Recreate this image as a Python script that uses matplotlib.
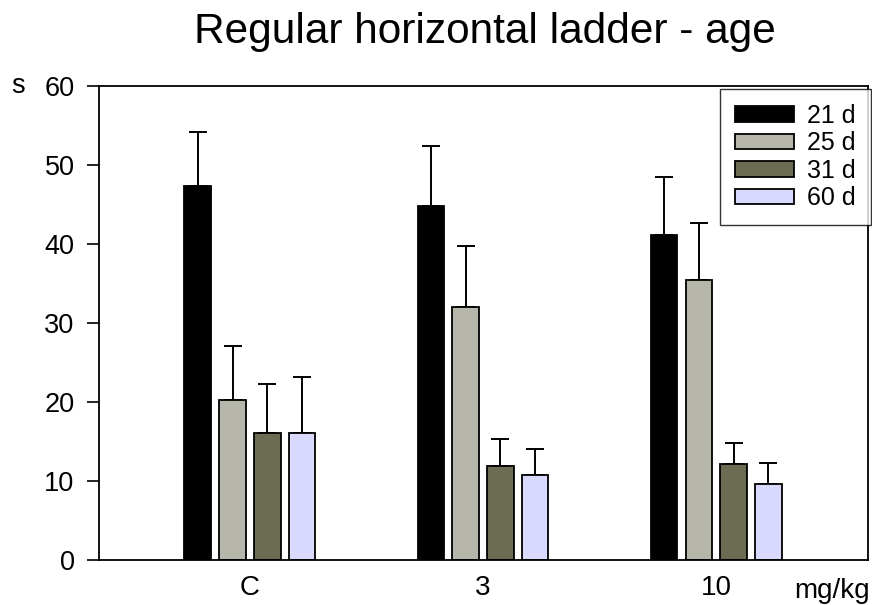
import matplotlib
matplotlib.use("Agg")
import matplotlib.pyplot as plt
import numpy as np

plt.rcParams['font.family'] = ['Liberation Sans', 'DejaVu Sans']

doses = ['C', '3', '10']
ages = ['21 d', '25 d', '31 d', '60 d']
# mean time (s) per age group, one list per age
m21 = [47.4, 44.8, 41.1]
m25 = [20.2, 32.0, 35.5]
m31 = [16.1, 11.9, 12.1]
m60 = [16.1, 10.7, 9.6]
# standard error (upper bar only)
e21 = [6.8, 7.6, 7.4]
e25 = [6.9, 7.8, 7.2]
e31 = [6.2, 3.4, 2.7]
e60 = [7.1, 3.3, 2.7]

means = [m21, m25, m31, m60]
errs = [e21, e25, e31, e60]
colors = ['#000000', '#b6b6aa', '#6c6c53', '#d9d9fd']

fig = plt.figure(figsize=(8.72, 6.05), dpi=100)
ax = fig.add_axes([0.1135, 0.0744, 0.8819, 0.7835])

x = np.arange(len(doses))
w = 0.112
step = 0.150
for i in range(4):
    pos = x + (i - 1.5) * step
    ax.bar(pos, means[i], width=w, color=colors[i], edgecolor='black',
           linewidth=1.3, label=ages[i], zorder=2)
    ax.errorbar(pos, means[i], yerr=[np.zeros(3), errs[i]], fmt='none',
                ecolor='black', elinewidth=1.4, capsize=6.5, capthick=1.4, zorder=1)

ax.set_xlim(-0.648, 2.652)
ax.set_ylim(0, 60)
ax.set_yticks(range(0, 61, 10))
ax.set_xticks(x)
ax.set_xticklabels(doses)
ax.tick_params(axis='y', direction='out', length=8.6, width=1.2, labelsize=19.5, pad=9)
ax.tick_params(axis='x', length=0, labelsize=20, pad=11)
for sp in ax.spines.values():
    sp.set_linewidth(1.3)

fig.text(0.0206, 0.858, 's', ha='center', va='center', fontsize=19.5)
fig.text(0.9977, 0.0116, 'mg/kg', ha='right', va='baseline', fontsize=20)

fig.text(0.556, 0.929, 'Regular horizontal ladder - age', ha='center', va='baseline', fontsize=30.5)

leg = ax.legend(loc='upper left', bbox_to_anchor=(0.8257, 0.853), bbox_transform=fig.transFigure,
                fontsize=18, frameon=True, fancybox=False, handlelength=2.36,
                handleheight=0.56, labelspacing=0.14, borderpad=0.6, handletextpad=0.52,
                borderaxespad=0)
leg.get_frame().set_edgecolor('black')
leg.get_frame().set_linewidth(1.0)

fig.savefig('out.png', dpi=100)
